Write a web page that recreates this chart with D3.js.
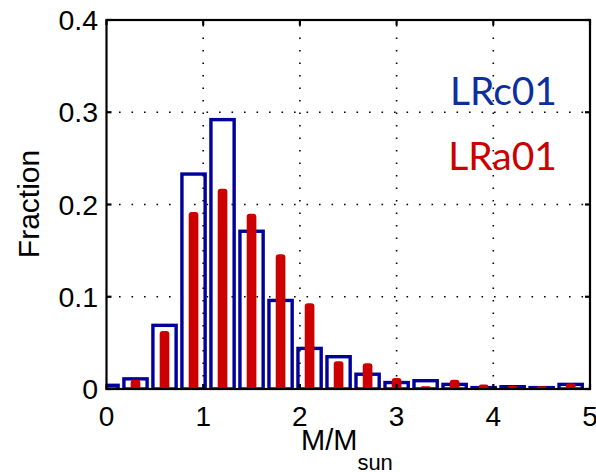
<!DOCTYPE html>
<html><head><meta charset="utf-8">
<script src="https://cdn.jsdelivr.net/npm/d3@7"></script>
<style>body{margin:0;background:#fff}svg{display:block}</style>
</head><body>
<script>
const binCenters = [0, 0.3, 0.6, 0.9, 1.2, 1.5, 1.8, 2.1, 2.4, 2.7, 3.0, 3.3, 3.6, 3.9, 4.2, 4.5, 4.8];
const lrc01 = [0.004, 0.011, 0.069, 0.233, 0.292, 0.171, 0.096, 0.044, 0.035, 0.016, 0.007, 0.009, 0.005, 0.0015, 0.0025, 0.0015, 0.005];
const lra01 = [0, 0.010, 0.063, 0.192, 0.217, 0.190, 0.146, 0.093, 0.030, 0.028, 0.012, 0.003, 0.010, 0.005, 0.0035, 0.003, 0.006];
const xTicks = [0, 1, 2, 3, 4, 5];
const yTicks = [0, 0.1, 0.2, 0.3, 0.4];
const seriesNames = ["LRc01", "LRa01"];

const W = 596, H = 472;
const m = {left: 106.5, right: 6, top: 20, bottom: 83};
const svg = d3.select("body").append("svg").attr("width", W).attr("height", H);
const x = d3.scaleLinear().domain([0, 5]).range([m.left, W - m.right]);
const y = d3.scaleLinear().domain([0, 0.4]).range([H - m.bottom, m.top]);
const binW = 0.3;

svg.append("clipPath").attr("id", "clip").append("rect")
  .attr("x", x(0)).attr("y", y(0.4)).attr("width", x(5) - x(0)).attr("height", y(0) - y(0.4));

// grid
const grid = svg.append("g").attr("stroke", "#000").attr("stroke-width", 1.6).attr("stroke-dasharray", "1.6,10.9");
xTicks.slice(1, -1).forEach(t => grid.append("line").attr("x1", x(t)).attr("x2", x(t)).attr("y1", y(0)).attr("y2", y(0.4)));
yTicks.slice(1, -1).forEach(t => grid.append("line").attr("y1", y(t)).attr("y2", y(t)).attr("x1", x(0)).attr("x2", x(5)));

const plot = svg.append("g").attr("clip-path", "url(#clip)");
// blue outlined bars
plot.selectAll("rect.b").data(binCenters).enter().append("rect")
  .attr("x", (d) => x(d - binW * 0.4))
  .attr("width", x(binW * 0.8) - x(0))
  .attr("y", (d, i) => y(lrc01[i]))
  .attr("height", (d, i) => y(0) - y(lrc01[i]))
  .attr("fill", "none").attr("stroke", "#00009c").attr("stroke-width", 3.4);
// red bars
plot.selectAll("path.r").data(binCenters).enter().append("path")
  .attr("d", (d, i) => {
    const v = lra01[i]; if (v <= 0) return "";
    const w = x(0.1) - x(0), x0 = x(d) - w / 2, y0 = y(0), yt = y(v);
    const r = Math.min(3, (y0 - yt) / 2);
    return `M${x0},${y0}V${yt + r}Q${x0},${yt} ${x0 + r},${yt}H${x0 + w - r}Q${x0 + w},${yt} ${x0 + w},${yt + r}V${y0}Z`;
  })
  .attr("fill", "#cc0000");

// frame and ticks
svg.append("rect").attr("x", x(0)).attr("y", y(0.4)).attr("width", x(5) - x(0)).attr("height", y(0) - y(0.4))
  .attr("fill", "none").attr("stroke", "#000").attr("stroke-width", 2.2);
const tl = 5;
const tg = svg.append("g").attr("stroke", "#000").attr("stroke-width", 2.2);
xTicks.forEach(t => {
  tg.append("line").attr("x1", x(t)).attr("x2", x(t)).attr("y1", y(0)).attr("y2", y(0) - tl);
  tg.append("line").attr("x1", x(t)).attr("x2", x(t)).attr("y1", y(0.4)).attr("y2", y(0.4) + tl);
});
yTicks.forEach(t => {
  tg.append("line").attr("y1", y(t)).attr("y2", y(t)).attr("x1", x(0)).attr("x2", x(0) + tl);
  tg.append("line").attr("y1", y(t)).attr("y2", y(t)).attr("x1", x(5)).attr("x2", x(5) - tl);
});

const font = "'Liberation Sans', Arial, Helvetica, sans-serif";
svg.append("g").selectAll("text").data(xTicks).enter().append("text")
  .attr("x", d => x(d)).attr("y", 426).attr("text-anchor", "middle")
  .attr("font-family", font).attr("font-size", 28).text(d => d);
svg.append("g").selectAll("text").data(yTicks).enter().append("text")
  .attr("x", 98).attr("y", d => y(d) + 10).attr("text-anchor", "end")
  .attr("font-family", font).attr("font-size", 28.5).text(d => d === 0 ? "0" : d.toFixed(1));

svg.append("text").attr("transform", `translate(39,204) rotate(-90)`).attr("text-anchor", "middle")
  .attr("font-family", font).attr("font-size", 30).text("Fraction");
const xl = svg.append("text").attr("x", 301).attr("y", 450).attr("font-family", font).attr("font-size", 29);
xl.append("tspan").text("M/M");
xl.append("tspan").attr("dy", 20).attr("font-size", 22).text("sun");

const legColors = ["#0b2f9c", "#cc0000"];
svg.append("g").selectAll("text").data(seriesNames).enter().append("text")
  .attr("x", 557).attr("y", (d, i) => 105 + i * 65).attr("text-anchor", "end")
  .attr("font-family", "Lato, 'Open Sans', sans-serif").attr("font-size", 39)
  .attr("fill", (d, i) => legColors[i]).text(d => d);
</script>
</body></html>
